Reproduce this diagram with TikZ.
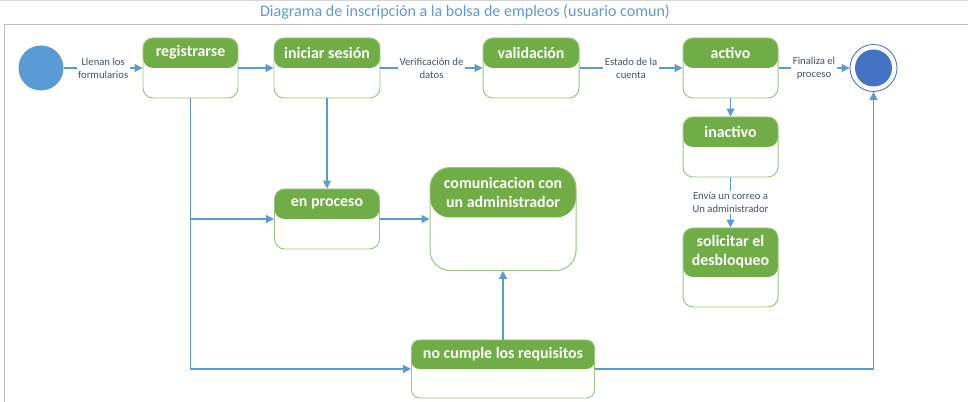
\documentclass[tikz,border=0pt]{standalone}
\usepackage{fontspec}
\setmainfont{Carlito}
\usetikzlibrary{arrows.meta, positioning, calc}
\definecolor{verde}{HTML}{70AD47}
\definecolor{azul}{HTML}{5B9BD5}
\definecolor{azulfin}{HTML}{4472C4}
\definecolor{gristexto}{HTML}{44546A}
\definecolor{marco}{HTML}{BFBFBF}

\begin{document}
\begin{tikzpicture}[
    cabeza/.store in=\cabeza, cabeza=0.75cm,
    estado/.style={draw=verde!70, line width=0.7pt, rounded corners=0.25cm, fill=white,
                   minimum width=2.375cm, minimum height=1.5cm, inner sep=0pt,
                   path picture={\fill[verde] (path picture bounding box.north west)
                     rectangle ([yshift=-\cabeza]path picture bounding box.north east);}},
    nombre/.style={anchor=center, text=white, align=center, inner sep=0pt,
                   font=\fontsize{11.3}{13.5}\selectfont\bfseries},
    etiqueta/.style={fill=white, inner sep=1pt, text=gristexto, align=center,
                     font=\fontsize{7.6}{9.2}\selectfont},
    flecha/.style={draw=azul, line width=0.8pt, -{Triangle[length=0.2cm, width=0.2cm]}}
]
    \useasboundingbox (0,0) rectangle (24.2,10.05);

    % marco y titulo
    \draw[marco!60, line width=0.6pt] (0,10.035) -- (24.2,10.035);
    \draw[marco, line width=0.7pt] (0.1,0) -- (0.1,9.45) -- (24.2,9.45);
    \node[font=\fontsize{11.4}{13}\selectfont, text=azul] (titulo) at (11.625,9.75)
        {Diagrama de inscripción a la bolsa de empleos (usuario comun)};

    % inicio y fin
    \node[circle, fill=azul, minimum size=1.125cm, inner sep=0pt] (inicio) at (1.025,8.35) {};
    \node[circle, draw=azulfin, line width=0.6pt, minimum size=1.175cm, inner sep=0pt] (fin) at (21.8375,8.35) {};
    \fill[azulfin] (fin.center) circle (0.4625);

    % estados
    \node[estado, label={[nombre, yshift=-0.375cm]north:registrarse}] (reg) at (4.7625,8.35) {};
    \node[estado, minimum width=2.65cm, label={[nombre, yshift=-0.375cm]north:iniciar sesión}] (ini) at (8.175,8.35) {};
    \node[estado, minimum width=2.4cm, label={[nombre, yshift=-0.375cm]north:validación}] (val) at (13.275,8.35) {};
    \node[estado, label={[nombre, yshift=-0.375cm]north:activo}] (act) at (18.2625,8.35) {};
    \node[estado, label={[nombre, yshift=-0.375cm]north:inactivo}] (inac) at (18.2625,6.375) {};
    \node[estado, minimum height=1.975cm, cabeza=1.225cm,
          label={[nombre, yshift=-0.6125cm]north:{solicitar el\\desbloqueo}}] (sol) at (18.2625,3.3625) {};
    \node[estado, minimum width=2.625cm, label={[nombre, yshift=-0.375cm]north:en proceso}] (enp) at (8.175,4.575) {};
    \node[estado, minimum width=3.65cm, minimum height=2.575cm, cabeza=1.25cm, rounded corners=0.5cm,
          label={[nombre, yshift=-0.625cm]north:{comunicacion con\\un administrador}}] (com) at (12.575,4.575) {};
    \node[estado, minimum width=4.575cm, minimum height=1.45cm, cabeza=0.725cm, rounded corners=0.2cm,
          label={[nombre, yshift=-0.3625cm]north:no cumple los requisitos}] (noc) at (12.575,0.825) {};

    % transiciones
    \draw[flecha] (inicio) -- node[etiqueta]{Llenan los\\formularios} (reg);
    \draw[flecha] (reg) -- (ini);
    \draw[flecha] (ini) -- node[etiqueta]{Verificación de\\datos} (val);
    \draw[flecha] (val) -- node[etiqueta]{Estado de la\\cuenta} (act);
    \draw[flecha] (act) -- node[etiqueta]{Finaliza el\\proceso} (fin);
    \draw[flecha] (act) -- (inac);
    \draw[flecha] (inac) -- node[etiqueta]{Envía un correo a\\Un administrador} (sol);
    \draw[flecha] (ini) -- (enp);
    \draw[flecha] (enp) -- (com);
    \draw[flecha] (noc) -- (com);
    \draw[flecha] (reg.south) |- (noc.west);
    \draw[flecha] (reg.south |- enp.west) -- (enp.west);
    \draw[flecha] (noc.east) -| (fin.south);
\end{tikzpicture}
\end{document}
